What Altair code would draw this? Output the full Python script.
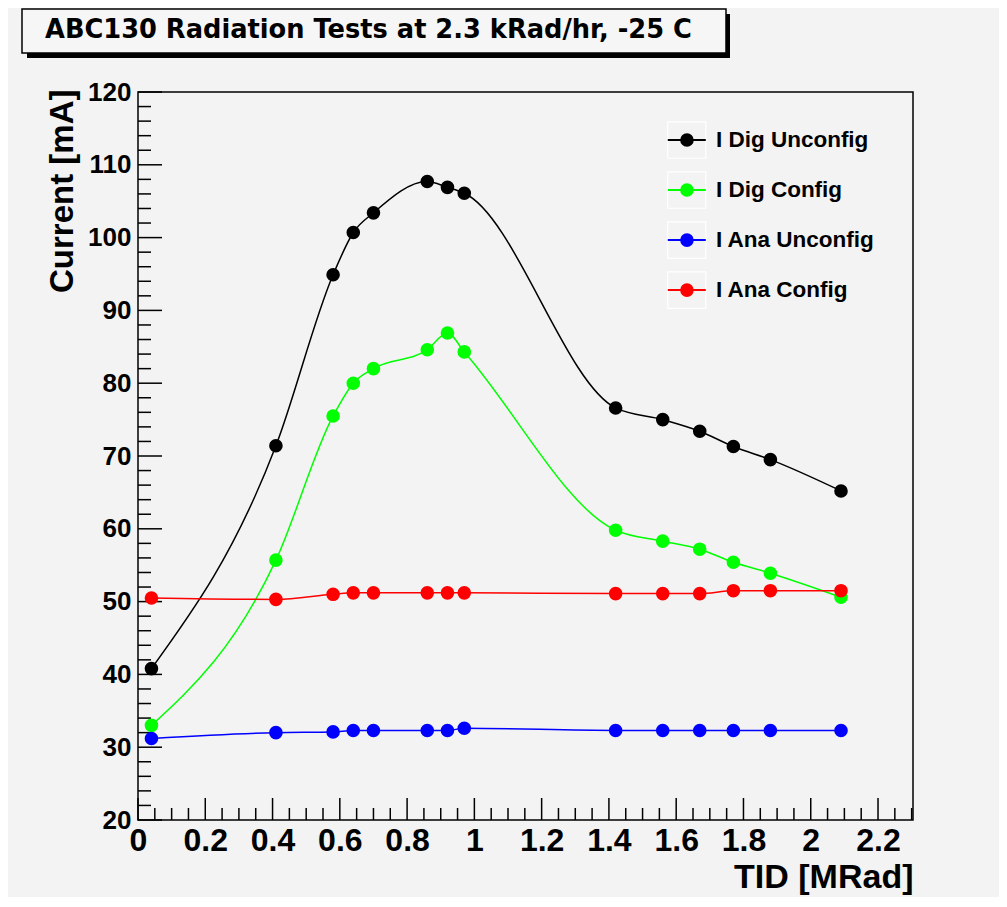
import altair as alt
import pandas as pd

# ---------------- data ----------------
title_text = "ABC130 Radiation Tests at 2.3 kRad/hr, -25 C"
x_title = "TID [MRad]"
y_title = "Current [mA]"

tid = [0.04, 0.41, 0.58, 0.64, 0.70, 0.86, 0.92, 0.97, 1.42, 1.56, 1.67, 1.77, 1.88, 2.09]
dig_unconfig = [40.8, 71.4, 94.9, 100.7, 103.4, 107.7, 106.9, 106.1, 76.6, 75.0, 73.4, 71.3, 69.5, 65.2]
dig_config = [33.0, 55.7, 75.5, 80.0, 82.0, 84.6, 86.9, 84.3, 59.8, 58.3, 57.2, 55.4, 53.9, 50.6]
ana_unconfig = [31.2, 32.0, 32.1, 32.3, 32.3, 32.3, 32.3, 32.6, 32.3, 32.3, 32.3, 32.3, 32.3, 32.3]
ana_config = [50.5, 50.3, 51.0, 51.2, 51.2, 51.2, 51.2, 51.2, 51.1, 51.1, 51.1, 51.5, 51.5, 51.5]

names = ["I Dig Unconfig", "I Dig Config", "I Ana Unconfig", "I Ana Config"]
colors = ["#000000", "#00ff00", "#0000ff", "#ff0000"]
widths = [1.5, 1.5, 2, 2]

x_labels = [0, 0.2, 0.4, 0.6, 0.8, 1, 1.2, 1.4, 1.6, 1.8, 2, 2.2]
y_labels = [20, 30, 40, 50, 60, 70, 80, 90, 100, 110, 120]
x_minor = [round(i * 0.05, 2) for i in range(0, 47) if i % 4 != 0]
y_minor = [v for v in range(20, 121, 2) if v % 10 != 0]

series = [dig_unconfig, dig_config, ana_unconfig, ana_config]
rows = []
for n, vals in zip(names, series):
    for t, v in zip(tid, vals):
        rows.append({"name": n, "tid": t, "cur": v})
df = pd.DataFrame(rows)
leg = pd.DataFrame({"name": names, "idx": list(range(len(names)))})

# ---------------- layout ----------------
W, H = 775, 728
FONT = "Liberation Sans"
xs = alt.Scale(domain=[0, 2.304], nice=False, zero=False)
ys = alt.Scale(domain=[20, 120], nice=False, zero=False)
col = alt.Color("name:N", scale=alt.Scale(domain=names, range=colors), legend=None)

xaxis = alt.Axis(values=x_labels, format="~g", title=x_title, ticks=False, tickSize=0,
                 domain=False, grid=False, labelFont=FONT, labelFontWeight="bold",
                 labelFontSize=32, labelColor="black", labelPadding=5, labelFlush=False,
                 labelOverlap=False, titleFont=FONT, titleFontWeight="bold", titleFontSize=34,
                 titleColor="black", titleX=W, titleY=67, titleAlign="right",
                 titleBaseline="alphabetic", titleAnchor="end")
yaxis = alt.Axis(values=y_labels, title=y_title, ticks=False, tickSize=0, domain=False,
                 grid=False, labelFont=FONT, labelFontWeight="bold", labelFontSize=26,
                 labelColor="black", labelPadding=7, labelFlush=False, labelOverlap=False,
                 titleFont=FONT, titleFontWeight="bold", titleFontSize=33, titleColor="black",
                 titleAngle=270, titleX=-66, titleY=-3, titleAlign="right",
                 titleBaseline="alphabetic")


def X(f):
    return alt.X(f, scale=xs, axis=xaxis)


def Y(f):
    return alt.Y(f, scale=ys, axis=yaxis)


one = alt.Data(values=[{"a": 1}])

shadow = alt.Chart(one).mark_rect(color="black").encode(
    x=alt.value(-111), x2=alt.value(592), y=alt.value(-78), y2=alt.value(-34))
box = alt.Chart(one).mark_rect(fill="#f6f6f6", stroke="black", strokeWidth=1.5).encode(
    x=alt.value(-116), x2=alt.value(588), y=alt.value(-83), y2=alt.value(-39))
ttl = alt.Chart(one).mark_text(align="left", baseline="alphabetic", font="DejaVu Sans",
                               fontSize=25.7, fontWeight="bold", color="black").encode(
    x=alt.value(-93), y=alt.value(-54), text=alt.value(title_text))

lines = alt.Chart(df).mark_line(interpolate="monotone").encode(
    x=X("tid:Q"), y=Y("cur:Q"), color=col,
    strokeWidth=alt.StrokeWidth("name:N", scale=alt.Scale(domain=names, range=widths), legend=None),
)
pts = alt.Chart(df).mark_circle(size=185, opacity=1).encode(
    x=X("tid:Q"), y=Y("cur:Q"), color=col)


def xticks(vals, length):
    return alt.Chart(pd.DataFrame({"v": vals})).mark_rule(color="black", strokeWidth=1.5).encode(
        x=X("v:Q"), y=alt.value(H), y2=alt.value(H - length))


def yticks(vals, length):
    return alt.Chart(pd.DataFrame({"v": vals})).mark_rule(color="black", strokeWidth=1.5).encode(
        y=Y("v:Q"), x=alt.value(0), x2=alt.value(length))


ticks = [xticks(x_labels, 22), xticks(x_minor, 12), yticks(y_labels, 24), yticks(y_minor, 13)]

legbase = alt.Chart(leg).transform_calculate(
    ly="113.4 - 6.87 * datum.idx", lt="datum.ly + 2.5", lb="datum.ly - 2.5",
    x0="1.575", x1="1.688", xm="1.632", xt="1.718")
leg_box = legbase.mark_rect(fill=None, stroke="white", strokeWidth=1.2).encode(
    x=X("x0:Q"), x2="x1:Q", y=Y("lb:Q"), y2="lt:Q")
leg_line = legbase.mark_rule(strokeWidth=2).encode(
    x=X("x0:Q"), x2="x1:Q", y=Y("ly:Q"), color=col)
leg_pt = legbase.mark_circle(size=185, opacity=1).encode(
    x=X("xm:Q"), y=Y("ly:Q"), color=col)
leg_txt = legbase.mark_text(align="left", baseline="middle", font=FONT, fontSize=22.5,
                            fontWeight="bold", color="black").encode(
    x=X("xt:Q"), y=Y("ly:Q"), text="name:N")

chart = alt.layer(
    shadow, box, ttl, *ticks, lines, pts, leg_box, leg_line, leg_pt, leg_txt
).properties(
    width=W, height=H,
    autosize=alt.AutoSizeParams(type="none"),
    padding={"left": 130, "top": 84, "right": 86, "bottom": 77},
    background="#f3f3f3",
).configure_view(
    stroke="black", strokeWidth=1.5, fill="#f3f3f3"
)

chart.save("out.html", embed_options={"renderer": "svg", "actions": False})
